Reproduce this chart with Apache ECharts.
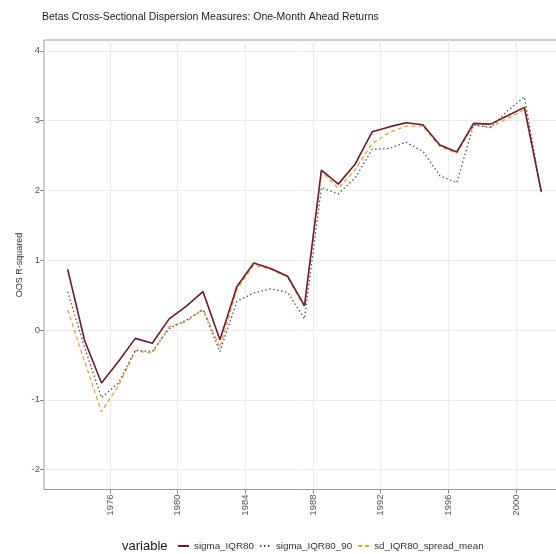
<!DOCTYPE html>
<html>
<head>
<meta charset="utf-8">
<script src="https://cdn.jsdelivr.net/npm/echarts@6/dist/echarts.min.js"></script>
<style>html,body{margin:0;padding:0;background:#fff;}#c{width:556px;height:554px;}</style>
</head>
<body>
<div id="c"></div>
<script>
const years = [1973.5,1974.5,1975.5,1976.5,1977.5,1978.5,1979.5,1980.5,1981.5,1982.5,1983.5,1984.5,1985.5,1986.5,1987.5,1988.5,1989.5,1990.5,1991.5,1992.5,1993.5,1994.5,1995.5,1996.5,1997.5,1998.5,1999.5,2000.5,2001.5];
const sigma_IQR80 = [0.87,-0.15,-0.76,-0.45,-0.12,-0.19,0.16,0.34,0.55,-0.14,0.62,0.96,0.88,0.77,0.35,2.29,2.09,2.38,2.84,2.91,2.97,2.94,2.65,2.55,2.96,2.95,3.07,3.19,1.98];
const sigma_IQR80_90 = [0.55,-0.25,-0.97,-0.76,-0.29,-0.31,0.02,0.14,0.29,-0.31,0.41,0.53,0.59,0.54,0.16,2.04,1.95,2.18,2.59,2.60,2.69,2.56,2.21,2.11,2.94,2.90,3.14,3.34,1.96];
const sd_IQR80_spread_mean = [0.29,-0.45,-1.17,-0.80,-0.30,-0.33,0.05,0.12,0.30,-0.25,0.58,0.93,0.87,0.76,0.32,2.27,2.03,2.30,2.67,2.83,2.92,2.92,2.63,2.53,2.94,2.91,3.03,3.16,1.98];
const xTicks = [1976,1980,1984,1988,1992,1996,2000];
const yTicks = [-2,-1,0,1,2,3,4];
const seriesNames = ['sigma_IQR80','sigma_IQR80_90','sd_IQR80_spread_mean'];

const pair = (arr) => years.map((y, i) => [y, arr[i]]);
const font = 'Liberation Sans, Arial, sans-serif';

const chart = echarts.init(document.getElementById('c'), null, {renderer: 'canvas'});
chart.setOption({
  backgroundColor: '#ffffff',
  animation: false,
  title: {
    text: 'Betas Cross-Sectional Dispersion Measures: One-Month Ahead Returns',
    left: 42, top: 12, padding: 0,
    textStyle: {fontFamily: font, fontSize: 10.5, fontWeight: 'normal', color: '#1a1a1a'}
  },
  graphic: [{
    type: 'text', left: 122, top: 540,
    style: {text: 'variable', fontFamily: font, fontSize: 13, fill: '#1a1a1a'}
  }, {
    type: 'text', x: 20, y: 265, rotation: Math.PI / 2,
    style: {text: 'OOS R-squared', fontFamily: font, fontSize: 9, fill: '#333', align: 'center', verticalAlign: 'middle'}
  }],
  legend: {
    show: true,
    orient: 'horizontal',
    data: seriesNames,
    left: 177, top: 541, padding: 0,
    itemWidth: 11, itemHeight: 10, itemGap: 5,
    itemStyle: {opacity: 0},
    textStyle: {fontFamily: font, fontSize: 9.8, color: '#333'}
  },
  grid: {left: 44, top: 40, right: -9, bottom: 64.5, show: true, borderColor: '#9a9a9a', borderWidth: 1, containLabel: false, outerBoundsMode: 'none'},
  xAxis: {
    type: 'value', min: 1972.1, max: 2002.9, position: 'bottom',
    axisLine: {show: false, onZero: false},
    axisTick: {show: true, length: 4, lineStyle: {color: '#888'}, customValues: xTicks},
    axisLabel: {customValues: xTicks, rotate: 90, margin: 5, fontFamily: font, fontSize: 9.5, color: '#555',
      formatter: (v) => String(v)},
    splitLine: {show: true, lineStyle: {color: '#ececec', width: 1}}
  },
  yAxis: {
    type: 'value', min: -2.285, max: 4.155, position: 'left',
    axisLine: {show: false, onZero: false},
    axisTick: {show: true, length: 4, lineStyle: {color: '#888'}, customValues: yTicks},
    axisLabel: {customValues: yTicks, margin: 4, fontFamily: font, fontSize: 9.5, color: '#555'},
    splitLine: {show: true, lineStyle: {color: '#ececec', width: 1}}
  },
  series: [
    {name: 'sigma_IQR80', type: 'line', data: pair(sigma_IQR80), symbol: 'none', z: 5,
     lineStyle: {color: '#6e1c2a', width: 1.6, type: 'solid'}, itemStyle: {color: '#6e1c2a'}},
    {name: 'sigma_IQR80_90', type: 'line', data: pair(sigma_IQR80_90), symbol: 'none', z: 4,
     lineStyle: {color: '#4f5566', width: 1.3, type: [1.5, 2.5]}, itemStyle: {color: '#4f5566'}},
    {name: 'sd_IQR80_spread_mean', type: 'line', data: pair(sd_IQR80_spread_mean), symbol: 'none', z: 3,
     lineStyle: {color: '#efa033', width: 1.3, type: [4, 3]}, itemStyle: {color: '#efa033'}}
  ]
});
</script>
</body>
</html>
